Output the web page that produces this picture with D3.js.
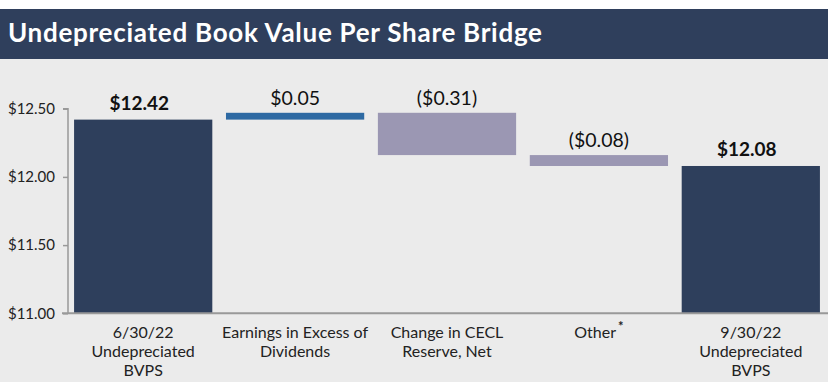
<!DOCTYPE html>
<html><head><meta charset="utf-8">
<script src="https://cdn.jsdelivr.net/npm/d3@7"></script>
<style>
html,body{margin:0;padding:0;background:#fff;}
svg{display:block;}
</style></head>
<body>
<script>
const title = "Undepreciated Book Value Per Share Bridge";
const categories = ["6/30/22|Undepreciated|BVPS", "Earnings in Excess of|Dividends", "Change in CECL|Reserve, Net", "Other", "9/30/22|Undepreciated|BVPS"];
const stepValues = [12.42, 0.05, -0.31, -0.08, 12.08];
const stepTypes = ["total", "delta", "delta", "delta", "total"];
const valueLabels = ["$12.42", "$0.05", "($0.31)", "($0.08)", "$12.08"];
const yTicks = [11.00, 11.50, 12.00, 12.50];
const yTickLabels = ["$11.00", "$11.50", "$12.00", "$12.50"];

const W = 829, H = 382;
const FONT = "Lato, 'Open Sans', sans-serif";
const svg = d3.select("body").append("svg").attr("width", W).attr("height", H);

svg.append("rect").attr("x",0).attr("y",59).attr("width",828).attr("height",H-59).attr("fill","#ebebeb");
svg.append("rect").attr("x",0).attr("y",9).attr("width",828).attr("height",50).attr("fill","#2f3f5c");
svg.append("text").attr("x",8).attr("y",42).attr("fill","#fff")
  .attr("textLength",534).attr("lengthAdjust","spacing")
  .style("font-family",FONT).style("font-weight","bold").style("font-size","26px").text(title);

const y = d3.scaleLinear().domain([11, 12.5]).range([313.3, 108.7]);
const x = d3.scaleBand().domain(d3.range(categories.length)).range([68, 826]).paddingInner(0.09).paddingOuter(0.04);

// compute waterfall
let running = 0;
const bars = stepValues.map((v,i)=>{
  let y0, y1;
  if (stepTypes[i] === "total") { y0 = 11; y1 = v; running = v; }
  else { y0 = running; y1 = running + v; running = y1; }
  return {i, y0, y1, type: stepTypes[i], v};
});
const color = d => d.type === "total" ? "#2e3f5c" : (d.v > 0 ? "#2e6aa3" : "#9b97b3");

svg.selectAll("rect.bar").data(bars).enter().append("rect").attr("class","bar")
  .attr("x", d=>x(d.i)).attr("width", x.bandwidth())
  .attr("y", d=>y(Math.max(d.y0,d.y1))).attr("height", d=>Math.abs(y(d.y0)-y(d.y1)))
  .attr("fill", color);

svg.selectAll("text.val").data(bars).enter().append("text").attr("class","val")
  .attr("x", d=>x(d.i)+x.bandwidth()/2 - (d.type==="total"?4:0))
  .attr("y", d=>y(Math.max(d.y0,d.y1)) - (d.type==="total"?10:8))
  .attr("text-anchor","middle").attr("fill", "#111")
  .style("font-family",FONT).style("font-size", d=>d.type==="total"?"19px":"19.5px")
  .style("font-weight", d=>d.type==="total"?"bold":"normal")
  .text(d=>valueLabels[d.i]);

// y axis
const yAxis = d3.axisLeft(y).tickValues(yTicks).tickFormat((d,i)=>yTickLabels[i]).tickSize(5).tickPadding(8);
const gy = svg.append("g").attr("transform","translate(68,0)").call(yAxis);
gy.select(".domain").attr("stroke","#999").attr("stroke-width",1.5).attr("d", `M-5,${y(12.5)}H0V${y(11)}`);
gy.selectAll(".tick line").attr("stroke","#999").attr("stroke-width",1.5);
gy.selectAll(".tick text").attr("fill","#222").style("font-family",FONT).style("font-size","15px");

// x axis line
svg.append("line").attr("x1",62).attr("x2",828).attr("y1",y(11)).attr("y2",y(11)).attr("stroke","#999").attr("stroke-width",2);

// category labels
categories.forEach((c,i)=>{
  const lines = c.split("|");
  const t = svg.append("text").attr("x", x(i)+x.bandwidth()/2).attr("y", 338)
    .attr("text-anchor","middle").attr("fill","#222")
    .style("font-family",FONT).style("font-size","16px");
  lines.forEach((l,j)=>{
    t.append("tspan").attr("x", x(i)+x.bandwidth()/2).attr("dy", j===0?0:19).text(l);
  });
  if (c === "Other") {
    t.append("tspan").attr("dx",2).attr("dy",-7).style("font-size","13px").style("font-weight","bold").text("*");
  }
});
</script>
</body></html>
